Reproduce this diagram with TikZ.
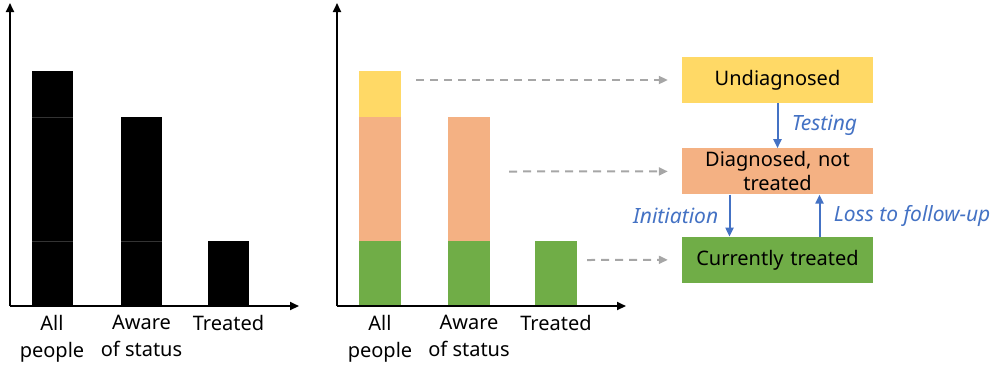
\documentclass[tikz,border=0pt]{standalone}
\usepackage{fontspec}
\setmainfont{Noto Sans}
\usetikzlibrary{positioning,arrows.meta}

\definecolor{undiagfill}{HTML}{FFD966}
\definecolor{diagfill}{HTML}{F4B183}
\definecolor{treatfill}{HTML}{70AD47}
\definecolor{flowblue}{HTML}{4472C4}
\definecolor{dashgray}{HTML}{A6A6A6}

\tikzset{
    axis/.style={line width=2pt, -{Triangle[length=9pt,width=8pt]}},
    barlabel/.style={anchor=north, align=center, inner sep=0pt},
    statebox/.style={rectangle, minimum width=191pt, minimum height=46pt, text width=185pt, text centered, inner sep=1pt, font=\fontsize{20}{24}\selectfont},
    flow/.style={draw=flowblue, line width=2pt, -{Triangle[length=9pt,width=8pt]}},
    flowlabel/.style={text=flowblue, font=\fontsize{21}{22}\selectfont\itshape},
    linkline/.style={draw=dashgray, line width=2pt, dash pattern=on 8pt off 6pt, -{Triangle[length=9pt,width=8pt]}, shorten >=14pt}
}

\begin{document}
\begin{tikzpicture}[x=1pt, y=-1pt, every node/.style={font=\fontsize{20}{27}\selectfont}]

    \useasboundingbox (0,0) rectangle (1000,368);

    % Left chart: axes
    \coordinate (orgA) at (10,306);
    \coordinate (ytopA) at (10,3);
    \coordinate (xendA) at (299,306);
    \draw[axis] (orgA) -- (ytopA);
    \draw[axis] (orgA) -- (xendA);

    % Left chart: black bars
    \fill[black] (32,71) rectangle (73,305);
    \fill[black] (121,117) rectangle (162,305);
    \fill[black] (208,241) rectangle (249,305);
    \draw[black!80, line width=0.4pt] (32,117) -- (73,117);
    \draw[black!80, line width=0.4pt] (32,241) -- (73,241);
    \draw[black!80, line width=0.4pt] (121,241) -- (162,241);

    % Left chart: labels
    \node (allA) [barlabel] at (52,315) {All\\people};
    \node (awareA) [barlabel] at (141.5,315) {Aware\\of status};
    \node (treatA) [barlabel] at (228.5,315) {Treated};

    % Right chart: axes
    \coordinate (orgB) at (337,306);
    \coordinate (ytopB) at (337,3);
    \coordinate (xendB) at (626,306);
    \draw[axis] (orgB) -- (ytopB);
    \draw[axis] (orgB) -- (xendB);

    % Right chart: coloured bars
    \fill[undiagfill] (359,71) rectangle (401,117);
    \fill[diagfill] (359,117) rectangle (401,241);
    \fill[treatfill] (359,241) rectangle (401,305);
    \fill[diagfill] (448,117) rectangle (490,241);
    \fill[treatfill] (448,241) rectangle (490,305);
    \fill[treatfill] (535,241) rectangle (577,305);

    % Right chart: labels
    \node (allB) [barlabel] at (380,315) {All\\people};
    \node (awareB) [barlabel] at (469,315) {Aware\\of status};
    \node (treatB) [barlabel] at (556,315) {Treated};

    % States
    \node (undiag) [statebox, fill=undiagfill] at (777.5,80) {Undiagnosed};
    \node (diag) [statebox, fill=diagfill, below=45pt of undiag] {Diagnosed, not\\treated};
    \node (curr) [statebox, fill=treatfill, below=42pt of diag] {Currently treated};

    % Transitions
    \draw[flow] (undiag) -- node[flowlabel, right=10pt] {Testing} (diag);
    \draw[flow] ([xshift=-48pt]diag.south) -- node[flowlabel, left=7pt] {Initiation} ([xshift=-48pt]curr.north);
    \draw[flow] ([xshift=42pt]curr.north) -- node[flowlabel, right=10pt] {Loss to follow-up} ([xshift=42pt]diag.south);

    % Dashed links from bars to states
    \coordinate (linkU) at (416,80);
    \coordinate (linkD) at (509,171.5);
    \coordinate (linkC) at (587,260);
    \draw[linkline] (linkU) -- (undiag.west);
    \draw[linkline] (linkD) -- (diag.west);
    \draw[linkline] (linkC) -- (curr.west);

\end{tikzpicture}
\end{document}
